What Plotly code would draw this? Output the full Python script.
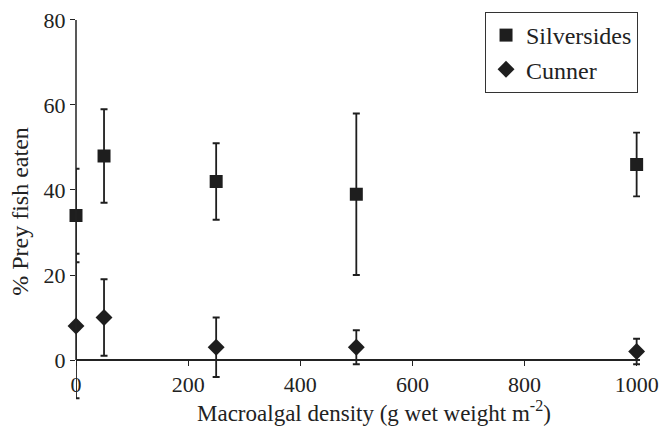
import plotly.graph_objects as go

density = [0, 50, 250, 500, 1000]
silversides = [34, 48, 42, 39, 46]
silversides_err = [11, 11, 9, 19, 7.5]
cunner = [8, 10, 3, 3, 2]
cunner_err = [17, 9, 7, 4, 3]
y_ticks = [0, 20, 40, 60, 80]
x_ticks = [0, 200, 400, 600, 800, 1000]

FONT = "Liberation Serif, Times New Roman, serif"
INK = "#1e1e1e"

Y_MIN, Y_MAX = -12, 81.88

fig = go.Figure()
fig.add_trace(go.Scatter(
    x=density, y=silversides, mode="markers", name="Silversides",
    legendgroup="a",
    marker=dict(symbol="square", size=13, color=INK),
    error_y=dict(type="data", array=silversides_err, visible=True,
                 color=INK, thickness=1.8, width=3.5),
    cliponaxis=False,
))
fig.add_trace(go.Scatter(
    x=density, y=cunner, mode="markers", name="Cunner",
    legendgroup="b",
    marker=dict(symbol="diamond", size=13, color=INK),
    error_y=dict(type="data", array=cunner_err, visible=True,
                 color=INK, thickness=1.8, width=3.5),
    cliponaxis=False,
))

# y-axis line runs only from 0 to 80
fig.add_shape(type="line", xref="paper", x0=0, x1=0, yref="y",
              y0=y_ticks[0], y1=y_ticks[-1], line=dict(color="#222", width=1.5))

fig.add_annotation(
    text="Macroalgal density (g wet weight m<sup>-2</sup>)",
    xref="paper", yref="paper", x=0.528, y=0.0, xanchor="center", yanchor="middle",
    showarrow=False, font=dict(size=23, family=FONT, color="#222"),
)

fig.update_layout(
    width=660, height=426,
    margin=dict(l=76, r=20, t=12, b=15),
    paper_bgcolor="white", plot_bgcolor="white",
    font=dict(family=FONT, size=22, color="#222"),
    showlegend=True,
    legend=dict(
        x=0.9965, y=1.0, xanchor="right", yanchor="top",
        bordercolor="#333", borderwidth=1, bgcolor="white",
        font=dict(size=24, family=FONT, color="#222"),
        tracegroupgap=0,
    ),
    xaxis=dict(
        range=[0, 1006], tickvals=x_ticks,
        anchor="free", position=(0 - Y_MIN) / (Y_MAX - Y_MIN),
        showline=True, linecolor="#222", linewidth=1.5,
        ticks="outside", ticklen=5, tickcolor="#222", tickwidth=1.2,
        showgrid=False, zeroline=False, automargin=False,
        tickfont=dict(size=22),
    ),
    yaxis=dict(
        range=[Y_MIN, Y_MAX], tickvals=y_ticks,
        showline=False,
        ticks="outside", ticklen=5, tickcolor="#222", tickwidth=1.2,
        showgrid=False, zeroline=False, automargin=False,
        tickfont=dict(size=22),
        title=dict(text="% Prey fish eaten", font=dict(size=24), standoff=8),
    ),
)

fig.write_html("out.html", config={"displayModeBar": False},
               post_script="document.body.style.margin='0';document.body.style.padding='0';")
